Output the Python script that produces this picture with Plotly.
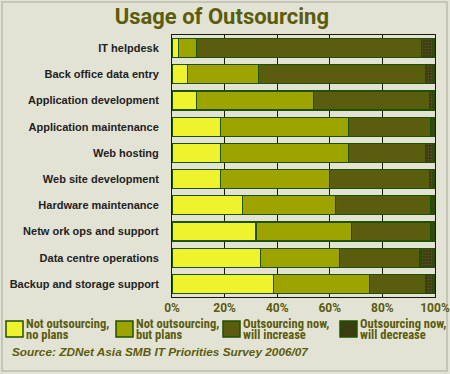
import plotly.graph_objects as go

categories = ["IT helpdesk", "Back office data entry", "Application development",
              "Application maintenance", "Web hosting", "Web site development",
              "Hardware maintenance", "Netw ork ops and support", "Data centre operations",
              "Backup and storage support"]

not_no_plans = [2.4, 5.8, 9.3, 18.4, 18.4, 18.4, 26.8, 31.9, 33.7, 38.7]
not_but_plans = [7.0, 27.2, 44.4, 48.7, 48.7, 41.6, 35.3, 36.2, 30.1, 36.4]
now_increase = [85.5, 63.4, 44.1, 31.4, 29.3, 37.8, 36.4, 30.4, 30.5, 21.3]
now_decrease = [5.1, 3.6, 2.2, 1.5, 3.6, 2.2, 1.5, 1.5, 5.7, 3.6]

series_names = [["Not outsourcing,", "no plans"], ["Not outsourcing,", "but plans"],
                ["Outsourcing now,", "will increase"], ["Outsourcing now,", "will decrease"]]
tick_vals = [0, 20, 40, 60, 80, 100]
tick_text = ["0%", "20%", "40%", "60%", "80%", "100%"]

colors = ["#EEF32E", "#9DA400", "#5A5C0E", "#3C3D0E"]
series = [not_no_plans, not_but_plans, now_increase, now_decrease]

BG = "#E3E3D5"
OLIVE = "#5B5C0C"
BORDER = "#1E5200"
LEG_FONT = "Liberation Sans Narrow, Roboto Condensed, Roboto"

# plot area in pixels: x 172..435, y 35..297
PL, PR, PT, PB = 172, 435, 35, 297
def px_x(p):
    return (p - PL) / (PR - PL)
def px_y(p):
    return (PB - p) / (PB - PT)

fig = go.Figure()
for i, (name, vals) in enumerate(zip(series_names, series)):
    marker = dict(color=colors[i], line=dict(color=BORDER, width=1.2))
    if i == 3:
        marker["pattern"] = dict(shape=".", fgcolor="#6A6A40", bgcolor=colors[i],
                                 size=3, solidity=0.3)
    fig.add_trace(go.Bar(
        y=categories, x=vals, name=" ".join(name), orientation="h",
        marker=marker, hoverinfo="x+y", showlegend=False,
    ))

shapes = []
annotations = []
# outer frame
shapes.append(dict(type="rect", xref="paper", yref="paper",
                   x0=px_x(2), x1=px_x(447), y0=px_y(371), y1=px_y(2),
                   line=dict(color="#BDBDAE", width=1.5), fillcolor="rgba(0,0,0,0)",
                   layer="below"))

# manual legend
legend_x = [6, 116, 223, 340]
for i, name in enumerate(series_names):
    x0 = legend_x[i]
    shapes.append(dict(type="rect", xref="paper", yref="paper",
                       x0=px_x(x0), x1=px_x(x0 + 17), y0=px_y(337), y1=px_y(321),
                       line=dict(color=BORDER, width=1.5), fillcolor=colors[i]))
    for j, line in enumerate(name):
        annotations.append(dict(text=line, xref="paper", yref="paper",
                                x=px_x(x0 + 18), xanchor="left",
                                y=px_y(323.5 + 10.5 * j), yanchor="middle", showarrow=False,
                                align="left",
                                font=dict(family=LEG_FONT, size=12.5, color=OLIVE,
                                          weight="bold")))

annotations.append(dict(text="<b><i>Source: ZDNet Asia SMB IT Priorities Survey 2006/07</i></b>",
                        xref="paper", yref="paper", x=px_x(10), xanchor="left",
                        y=px_y(352), yanchor="middle", showarrow=False,
                        font=dict(family="Liberation Sans", size=11.8, color=OLIVE)))

fig.update_layout(
    width=450, height=374,
    barmode="stack", bargap=0.27,
    paper_bgcolor=BG, plot_bgcolor=BG,
    margin=dict(l=PL, r=450 - PR, t=PT, b=374 - PB, autoexpand=False),
    title=dict(text="<b>Usage of Outsourcing</b>", x=0.493, xanchor="center",
               y=1 - 16 / 374, yanchor="middle",
               font=dict(family="Roboto", size=22, color=OLIVE)),
    xaxis=dict(range=[0, 100], tickvals=tick_vals, ticktext=tick_text,
               showgrid=True, gridcolor="#1A1A10", gridwidth=1,
               showline=True, linecolor="#1A1A10", linewidth=1, mirror=True,
               zeroline=False, ticks="", ticklabelstandoff=0, automargin=False,
               tickfont=dict(family="Roboto", size=12, color=OLIVE, weight="bold"),
               fixedrange=True),
    yaxis=dict(autorange="reversed", showline=True, linecolor="#1A1A10",
               linewidth=1, mirror=True, ticks="", showgrid=False,
               ticklabelstandoff=10, automargin=False,
               tickfont=dict(family="Liberation Sans", size=11, color="#222222",
                             weight="bold"),
               fixedrange=True),
    shapes=shapes,
    annotations=annotations,
    showlegend=False,
)

fig.write_html("out.html", config={"displayModeBar": False},
               post_script="document.body.style.margin='0';document.body.style.overflow='hidden';")
